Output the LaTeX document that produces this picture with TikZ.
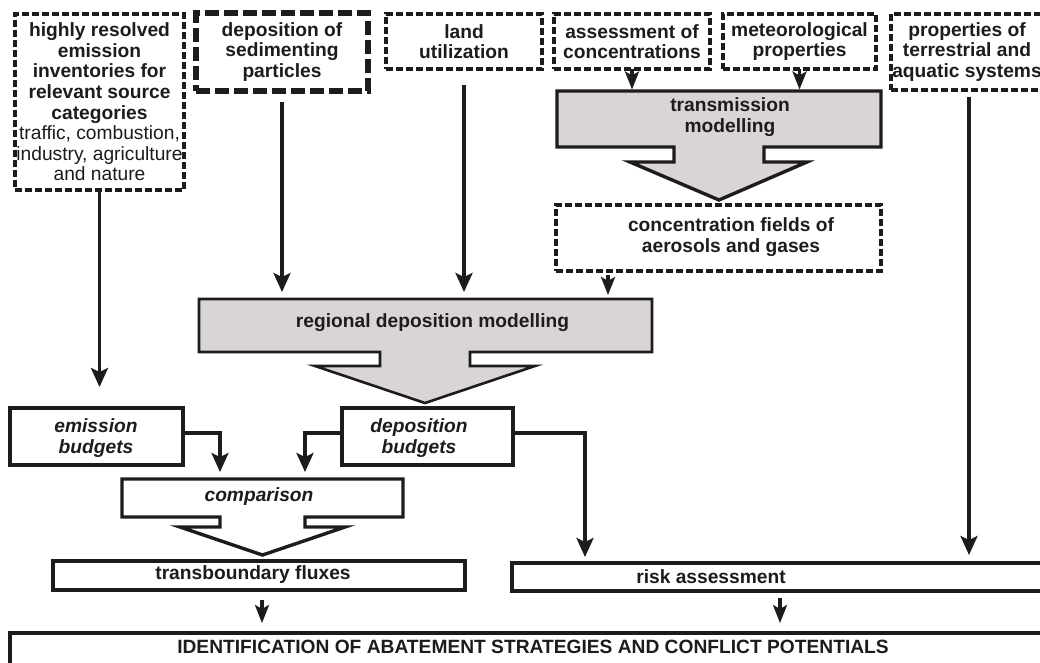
\documentclass[tikz,border=0pt]{standalone}
\usepackage{fontspec}
\setmainfont{Liberation Sans}
\usetikzlibrary{arrows.meta,calc}
\definecolor{ink}{HTML}{1E1B1C}
\definecolor{blockgray}{HTML}{D9D5D5}
\begin{document}
\begin{tikzpicture}[x=1pt,y=-1pt,
  every node/.style={inner sep=0pt, outer sep=0pt},
  txt/.style={font=\fontsize{19.2}{20.6}\selectfont\bfseries, align=center, text=ink},
  itxt/.style={font=\fontsize{19.2}{20.6}\selectfont\bfseries\itshape, align=center, text=ink},
  dbox/.style={draw=ink, line width=3.3pt, dash pattern=on 7pt off 3pt},
  dboxthick/.style={draw=ink, line width=5.5pt, dash pattern=on 14pt off 5pt},
  sbox/.style={draw=ink, line width=3.4pt, fill=white},
  arr/.style={draw=ink, line width=3.2pt, -{Stealth[length=19pt,width=17pt,inset=4pt]}},
  smallarr/.style={draw=ink, line width=3.2pt, -{Stealth[length=18pt,width=14pt,inset=4pt]}},
  blk/.style={draw=ink, line width=3.4pt, fill=blockgray, line join=miter},
]
\useasboundingbox (0,0) rectangle (1040,662);
\clip (0,0) rectangle (1040,662);
\fill[white] (0,0) rectangle (1040,662);

% top row
\node[dbox, txt, minimum width=169pt, minimum height=176pt] (hr) at (99.5,102)
  {highly resolved\\emission\\inventories for\\relevant source\\categories\\\mdseries traffic, combustion,\\\mdseries industry, agriculture\\\mdseries and nature};
\node[dboxthick, txt, minimum width=172pt, minimum height=78pt] (sed) at (282,52)
  {deposition of\\sedimenting\\particles};
\node[dbox, txt, minimum width=156pt, minimum height=55pt] (land) at (464,41.5)
  {land\\utilization};
\node[dbox, txt, minimum width=156pt, minimum height=55pt] (assess) at (632,41.5)
  {assessment of\\concentrations};
\node[dbox, txt, minimum width=153pt, minimum height=55pt] (met) at (799.5,41.5)
  {meteorological\\properties};
\node[dbox, txt, minimum width=152pt, minimum height=76pt] (prop) at (967,52)
  {properties of\\terrestrial and\\aquatic systems};

% transmission modelling block arrow
\node[minimum width=324pt, minimum height=56pt] (trans) at (719,119) {};
\draw[blk] (trans.north west) -- (trans.north east) -- (trans.south east)
  -- (764,147) -- (764,162) -- (807,162) -- (719,200) -- (630,162) -- (674,162)
  -- (674,147) -- (trans.south west) -- cycle;
\node[txt] (transtxt) at (730,117) {transmission\\modelling};

% concentration fields
\node[dbox, minimum width=325pt, minimum height=66pt] (conc) at (718.5,238) {};
\node[txt] (conctxt) at (731,237) {concentration fields of\\aerosols and gases};

% regional deposition modelling block arrow
\node[minimum width=453pt, minimum height=53pt] (reg) at (425.5,325.5) {};
\draw[blk, line width=2.6pt] (reg.north west) -- (reg.north east) -- (reg.south east)
  -- (470,352) -- (470,366) -- (535,366) -- (425,403) -- (315,366) -- (380,366)
  -- (380,352) -- (reg.south west) -- cycle;
\node[txt] (regtxt) at (432.5,323) {regional deposition modelling};

% budgets
\node[sbox, minimum width=173pt, minimum height=57pt] (emis) at (96.5,436.5) {};
\node[itxt] (emistxt) at (96,438) {emission\\budgets};
\node[sbox, minimum width=171pt, minimum height=57pt] (depo) at (427.5,436.5) {};
\node[itxt] (depotxt) at (419,438) {deposition\\budgets};

% comparison block arrow
\node[minimum width=281pt, minimum height=38pt] (comp) at (262.5,498) {};
\draw[blk, fill=white] (comp.north west) -- (comp.north east) -- (comp.south east)
  -- (305,517) -- (305,527) -- (345,527) -- (262.5,555) -- (180,527) -- (220,527)
  -- (220,517) -- (comp.south west) -- cycle;
\node[itxt] (comptxt) at (259,497) {comparison};

% results
\node[sbox, minimum width=412pt, minimum height=29pt] (flux) at (259,575.5) {};
\node[txt] (fluxtxt) at (253,575) {transboundary fluxes};
\node[sbox, line width=3.8pt, minimum width=533pt, minimum height=28pt] (risk) at (778.5,577) {};
\node[txt] (risktxt) at (711,577) {risk assessment};

\node[sbox, line width=3.8pt, minimum width=1040pt, minimum height=44pt, anchor=north west] (ident) at (10,633) {};
\node[txt] (identtxt) at (533,647) {IDENTIFICATION OF ABATEMENT STRATEGIES AND CONFLICT POTENTIALS};

% connectors
\draw[arr, shorten >=21pt] (hr.south) -- (hr.south |- emis.north);
\draw[arr, shorten <=11pt, shorten >=7pt] (sed.south) -- (sed.south |- reg.north);
\draw[arr, shorten <=16pt, shorten >=7pt] (land.south) -- (land.south |- reg.north);
\draw[smallarr, shorten >=1.5pt] (assess.south) -- (assess.south |- trans.north);
\draw[smallarr, shorten >=1.5pt] (met.south) -- (met.south |- trans.north);
\coordinate (cdrop) at ($(conc.south west)+(52,0)$);
\draw[smallarr, shorten <=4pt, shorten >=4pt] (cdrop) -- (cdrop |- reg.north);
\coordinate (pdrop) at ($(prop.south)+(2,0)$);
\draw[arr, shorten <=7pt, shorten >=8pt] (pdrop) -- (pdrop |- risk.north);
\draw[arr, shorten >=7pt] ([yshift=3.5pt]emis.east) -| ($(comp.north west)+(98,0)$);
\draw[arr, shorten >=7pt] ([yshift=3.5pt]depo.west) -| ($(comp.north west)+(183,0)$);
\draw[arr, shorten >=6pt] ([yshift=3.5pt]depo.east) -| ($(risk.north west)+(73,0)$);
\coordinate (fdrop) at ($(flux.south)+(3,0)$);
\draw[smallarr, shorten <=10pt, shorten >=10pt] (fdrop) -- (fdrop |- ident.north);
\coordinate (rdrop) at ($(risk.south)+(1.5,0)$);
\draw[smallarr, shorten <=7pt, shorten >=10pt] (rdrop) -- (rdrop |- ident.north);
\end{tikzpicture}
\end{document}
